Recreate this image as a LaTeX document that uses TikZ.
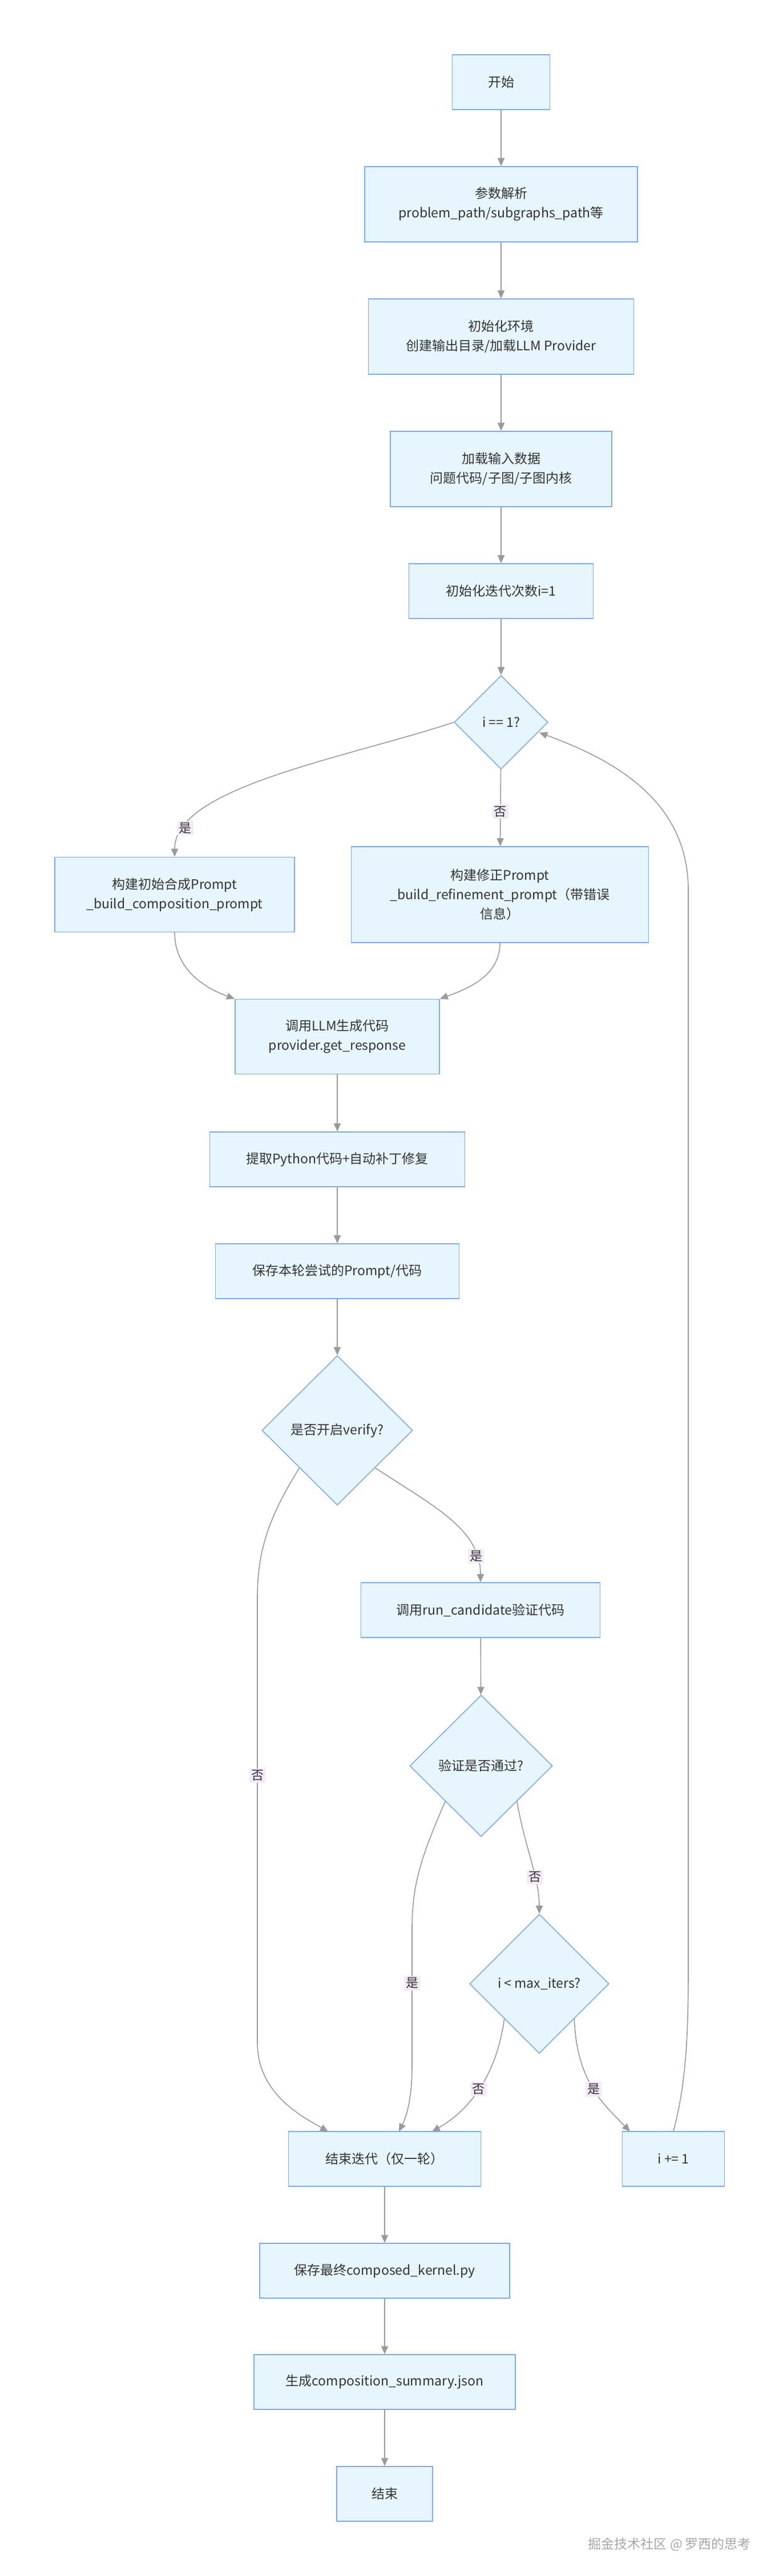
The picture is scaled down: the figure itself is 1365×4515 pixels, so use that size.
\documentclass[tikz,border=0pt]{standalone}
\usepackage{fontspec}
\setmainfont{Noto Sans CJK SC}
\usetikzlibrary{shapes.geometric,arrows.meta}
\definecolor{boxfill}{HTML}{E6F5FE}
\definecolor{boxline}{HTML}{7FA9EE}
\definecolor{edgegray}{HTML}{9A9A9A}
\definecolor{txt}{HTML}{333333}
\definecolor{lblfill}{HTML}{F3E9F8}

\tikzset{
  box/.style={draw=boxline, fill=boxfill, thick, text=txt, align=center, inner sep=2pt},
  dec/.style={diamond, draw=boxline, fill=boxfill, thick, text=txt, align=center, inner sep=0pt},
  flow/.style={draw=edgegray, thick, -{Triangle[width=6pt,length=7pt]}},
  lbl/.style={fill=lblfill, text=txt, inner sep=1.5pt, font=\fontsize{11}{13}\selectfont},
}

\begin{document}
\begin{tikzpicture}[x=0.5pt, y=-0.5pt, font=\fontsize{11.5}{17}\selectfont]
\useasboundingbox (0,0) rectangle (1365,4515);
%% nodes
\node[box, minimum width=85.5pt, minimum height=48pt] (start) at (878,144) {开始};
\node[box, minimum width=239pt, minimum height=66pt] (parse) at (878,358) {参数解析\\problem\_path/subgraphs\_path等};
\node[box, minimum width=232.5pt, minimum height=66pt] (env) at (878,590) {初始化环境\\创建输出目录/加载LLM Provider};
\node[box, minimum width=194pt, minimum height=66pt] (load) at (878,822) {加载输入数据\\问题代码/子图/子图内核};
\node[box, minimum width=161.5pt, minimum height=48pt] (initi) at (878,1036) {初始化迭代次数i=1};
\node[dec, minimum width=82pt, minimum height=82pt] (first) at (878,1266) {i == 1?};
\node[box, minimum width=210pt, minimum height=65.5pt] (compp) at (306,1568) {构建初始合成Prompt\\\_build\_composition\_prompt};
\node[box, minimum width=260.5pt, minimum height=84pt] (refp) at (876,1568) {构建修正Prompt\\\_build\_refinement\_prompt（带错误\\信息）};
\node[box, minimum width=179pt, minimum height=65.5pt] (llm) at (591,1817) {调用LLM生成代码\\provider.get\_response};
\node[box, minimum width=223.5pt, minimum height=48pt] (extract) at (591,2032) {提取Python代码+自动补丁修复};
\node[box, minimum width=213.5pt, minimum height=48pt] (saveround) at (591,2228) {保存本轮尝试的Prompt/代码};
\node[dec, minimum width=132pt, minimum height=131pt] (verify) at (591,2507) {是否开启verify?};
\node[box, minimum width=209.5pt, minimum height=48pt] (runcand) at (842,2822) {调用run\_candidate验证代码};
\node[dec, minimum width=125pt, minimum height=124pt] (passed) at (843,3095) {验证是否通过?};
\node[dec, minimum width=122pt, minimum height=122pt] (maxit) at (945,3477) {i < max\_iters?};
\node[box, minimum width=168.5pt, minimum height=48pt] (endit) at (674,3784) {结束迭代（仅一轮）};
\node[box, minimum width=89.5pt, minimum height=48pt] (inc) at (1180,3784) {i += 1};
\node[box, minimum width=219pt, minimum height=48pt] (savefinal) at (674,3980) {保存最终composed\_kernel.py};
\node[box, minimum width=229pt, minimum height=48pt] (summary) at (674,4175) {生成composition\_summary.json};
\node[box, minimum width=84pt, minimum height=48pt] (finish) at (674,4371) {结束};
\node[anchor=east, text=gray!70] (mark) at (1323,4460) {掘金技术社区 @ 罗西的思考};
%% free ends
\coordinate (inA) at (575,3736);
\coordinate (inB) at (699,3736);
\coordinate (inC) at (757,3736);
\coordinate (inD) at (1104,3736);
\coordinate (back) at (945,1284);
%% connectors
\draw[flow] (start) -- (parse);
\draw[flow] (parse) -- (env);
\draw[flow] (env) -- (load);
\draw[flow] (load) -- (initi);
\draw[flow] (initi) -- (first);
\draw[flow] (first.west) .. controls (600,1330) and (306,1380) .. node[lbl, pos=0.85] {是} (compp.north);
\draw[flow] (first) -- node[lbl, pos=0.55] {否} (refp);
\draw[flow] (compp.south) to[out=-90,in=160] (llm.north west);
\draw[flow] (refp.south) to[out=-90,in=20] (llm.north east);
\draw[flow] (llm) -- (extract);
\draw[flow] (extract) -- (saveround);
\draw[flow] (saveround) -- (verify);
\draw[flow] (verify.south east) .. controls (760,2640) and (842,2680) .. node[lbl, pos=0.82] {是} (runcand.north);
\draw[flow] (verify.south west) .. controls (470,2660) and (451,2720) .. (451,2800)
  -- node[lbl, pos=0.4] {否} (451,3580) .. controls (451,3670) and (530,3710) .. (inA);
\draw[flow] (runcand) -- (passed);
\draw[flow] (passed.south west) .. controls (740,3250) and (722,3300) .. (722,3380)
  -- node[lbl, pos=0.4] {是} (722,3620) .. controls (722,3680) and (712,3710) .. (inB);
\draw[flow] (passed.south east) .. controls (920,3240) and (945,3290) .. node[lbl, pos=0.65] {否} (maxit.north);
\draw[flow] (maxit.south west) .. controls (870,3640) and (820,3700) .. node[lbl, pos=0.5] {否} (inC);
\draw[flow] (maxit.south east) .. controls (1010,3650) and (1060,3690) .. node[lbl, pos=0.5] {是} (inD);
\draw[flow] (inc.north) .. controls (1203,3650) and (1206,3560) .. (1206,3450)
  -- (1206,1560) .. controls (1206,1400) and (1070,1330) .. (back);
\draw[flow] (endit) -- (savefinal);
\draw[flow] (savefinal) -- (summary);
\draw[flow] (summary) -- (finish);
\end{tikzpicture}
\end{document}
